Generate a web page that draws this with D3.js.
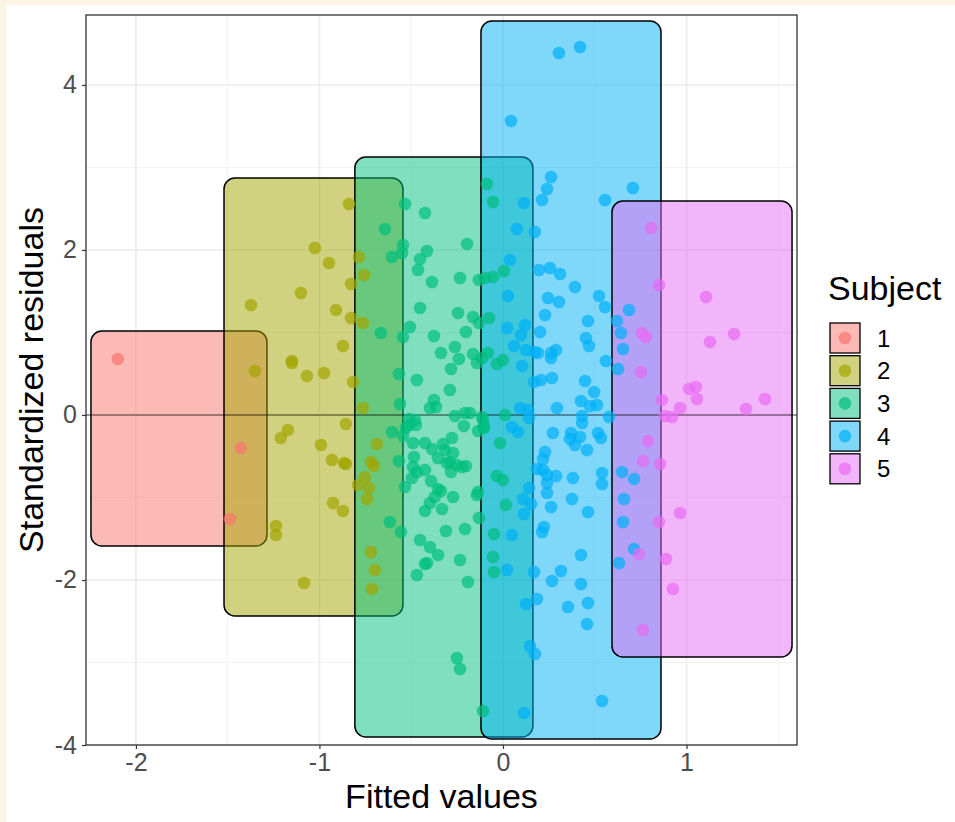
<!DOCTYPE html>
<html>
<head>
<meta charset="utf-8">
<script src="https://cdn.jsdelivr.net/npm/d3@7"></script>
<style>
  html,body{margin:0;padding:0;background:#fdf5e4;}
  svg{display:block;font-family:"Liberation Sans",Arial,sans-serif;}
</style>
</head>
<body>
<svg id="chart" width="955" height="822"></svg>
<script>
// residuals vs fitted, one rounded box per subject
const subjects = ['1','2','3','4','5']
const colors = ['#F8766D','#A3A500','#00BF7D','#00B0F6','#E76BF3']

const fitted1 = [-2.098,-1.428,-1.488]
const resid1  = [0.679,-0.400,-1.261]

const fitted2 = [-0.839,-1.025,-0.948,-0.785,-1.101,-1.373,-0.910,-0.828,-0.828,-0.757,-0.763,-0.872,-1.150,-1.150,-1.068,-0.975,-1.351,-0.817,-0.763,-0.856,-1.172,-1.210,-0.992,-0.932,-0.866,-0.856,-0.790,-0.926,-0.872,-1.237,-1.237,-1.084,-0.687,-0.719,-0.703,-0.752,-0.730,-0.741,-0.719,-0.698,-0.714]
const resid2  = [2.558,2.024,1.842,1.915,1.479,1.333,1.273,1.588,1.176,1.697,1.115,0.836,0.655,0.630,0.473,0.509,0.533,0.400,0.085,-0.109,-0.182,-0.279,-0.364,-0.545,-0.582,-0.594,-0.848,-1.067,-1.164,-1.345,-1.455,-2.036,-0.352,-0.570,-0.618,-0.752,-0.885,-1.018,-1.661,-1.879,-2.109]

const fitted3 = [-0.534,-0.425,-0.643,-0.545,-0.550,-0.605,-0.414,-0.452,-0.463,-0.196,-0.087,-0.054,-0.387,-0.234,-0.131,-0.098,-0.054,0.005,-0.452,-0.245,-0.163,-0.131,-0.076,-0.507,-0.545,-0.665,-0.376,-0.202,-0.262,-0.338,-0.240,-0.163,-0.114,-0.082,-0.142,0.000,-0.033,-0.283,-0.567,-0.469,-0.289,-0.376,-0.398,-0.365,-0.561,-0.262,-0.207,-0.180,-0.114,0.011,-0.512,-0.480,-0.605,-0.545,-0.512,-0.474,-0.529,-0.213,-0.136,-0.104,-0.490,-0.425,-0.278,-0.327,-0.387,-0.316,-0.272,-0.485,-0.567,-0.354,-0.289,-0.490,-0.425,-0.305,-0.251,-0.223,-0.202,-0.469,-0.283,-0.496,-0.392,-0.534,-0.354,-0.338,-0.371,-0.272,-0.136,-0.142,-0.398,-0.425,-0.332,-0.131,-0.616,-0.556,-0.311,-0.207,-0.452,-0.398,-0.354,-0.234,-0.414,-0.425,-0.469,-0.191,-0.251,-0.234,-0.109,-0.016,-0.033,0.000,0.016,-0.049,-0.054,-0.049,-0.109,-0.104]
const resid3  = [2.558,2.448,2.255,2.061,1.964,1.915,1.988,1.891,1.758,2.073,2.800,2.582,1.612,1.661,1.636,1.661,1.673,1.745,1.297,1.236,1.188,1.115,1.176,1.067,0.945,0.994,0.958,1.006,0.824,0.752,0.679,0.739,0.691,0.752,0.630,0.667,0.618,0.558,0.497,0.424,0.303,0.182,0.085,0.097,0.133,-0.012,0.024,0.024,-0.024,0.000,-0.048,-0.061,-0.206,-0.255,-0.121,-0.121,-0.158,-0.133,-0.194,-0.145,-0.339,-0.339,-0.279,-0.352,-0.412,-0.424,-0.461,-0.509,-0.558,-0.521,-0.570,-0.630,-0.667,-0.582,-0.606,-0.630,-0.618,-0.691,-0.691,-0.764,-0.800,-0.873,-0.897,-0.921,-0.994,-0.994,-0.933,-0.970,-1.067,-1.164,-1.139,-1.248,-1.297,-1.418,-1.406,-1.382,-1.515,-1.600,-1.697,-1.758,-1.794,-1.806,-1.939,-2.024,-2.945,-3.079,-3.588,-0.339,-0.739,-0.788,-1.091,-1.442,-1.721,-1.903,-0.061,-0.158]

const fitted4 = [0.305,0.420,0.044,0.262,0.240,0.213,0.114,0.556,0.708,0.076,0.174,0.038,0.196,0.256,0.311,0.392,0.027,0.245,0.305,0.523,0.556,0.229,0.463,0.621,0.687,0.022,0.120,0.098,0.202,0.452,0.469,0.643,0.060,0.125,0.174,0.191,0.262,0.289,0.262,0.654,0.561,0.627,0.104,0.169,0.207,0.267,0.447,0.496,0.425,0.474,0.512,0.294,0.093,0.136,0.142,0.431,0.578,0.049,0.082,0.272,0.431,0.371,0.365,0.420,0.392,0.458,0.518,0.534,0.229,0.218,0.185,0.218,0.240,0.289,0.240,0.240,0.142,0.109,0.153,0.114,0.262,0.381,0.376,0.463,0.540,0.540,0.649,0.714,0.659,0.654,0.714,0.632,0.223,0.213,0.049,0.425,0.022,0.169,0.316,0.267,0.425,0.185,0.125,0.354,0.463,0.458,0.147,0.174,0.540,0.114]
const resid4  = [4.388,4.461,3.564,2.885,2.739,2.606,2.570,2.606,2.752,2.255,2.218,1.879,1.758,1.782,1.709,1.552,1.442,1.418,1.370,1.442,1.309,1.212,1.139,1.139,1.273,1.055,1.091,0.970,1.006,0.933,0.836,0.994,0.836,0.788,0.764,0.752,0.752,0.788,0.691,0.800,0.655,0.558,0.594,0.400,0.424,0.448,0.412,0.279,0.170,0.109,0.121,0.085,0.085,0.061,-0.036,-0.012,-0.024,-0.145,-0.206,-0.218,-0.097,-0.218,-0.291,-0.267,-0.364,-0.424,-0.218,-0.279,-0.448,-0.533,-0.655,-0.667,-0.727,-0.739,-0.824,-0.945,-0.885,-1.018,-1.079,-1.200,-1.115,-0.764,-1.018,-1.176,-0.703,-0.836,-0.691,-0.776,-1.018,-1.297,-1.624,-1.794,-1.358,-1.418,-1.455,-1.697,-1.879,-1.903,-1.891,-2.012,-2.048,-2.230,-2.291,-2.327,-2.279,-2.533,-2.800,-2.897,-3.467,-3.612]

const fitted5 = [0.807,0.850,1.106,1.259,1.128,0.757,0.779,0.752,0.866,0.965,1.014,1.052,1.057,0.883,0.921,1.324,1.428,0.790,0.763,0.856,0.850,0.741,0.888,0.926,0.763,0.965]
const resid5  = [2.267,1.576,1.430,0.982,0.885,0.994,0.945,0.521,0.182,0.085,0.315,0.339,0.194,-0.012,-0.024,0.073,0.194,-0.315,-0.558,-0.594,-1.297,-1.685,-1.745,-2.109,-2.606,-1.188]

// box limits per subject
const boxXmin = [-2.245,-1.520,-0.807,-0.120,0.594]
const boxXmax = [-1.286,-0.545,0.163,0.861,1.575]
const boxYmin = [-1.588,-2.436,-3.903,-3.927,-2.933]
const boxYmax = [1.018,2.873,3.127,4.776,2.594]

const xTicks = [-2,-1,0,1]
const yTicks = [-4,-2,0,2,4]
const xMinor = [-1.5,-0.5,0.5,1.5]
const yMinor = [-3,-1,1,3]

const fittedAll = [fitted1,fitted2,fitted3,fitted4,fitted5]
const residAll = [resid1,resid2,resid3,resid4,resid5]

const svg = d3.select('#chart')
svg.append('rect').attr('x',6).attr('y',5).attr('width',949).attr('height',817).attr('fill','#fff')

const L=86, R=797, T=15, B=745
const x = d3.scaleLinear().domain([-2.272,1.602]).range([L,R])
const y = d3.scaleLinear().domain([-4,4.848]).range([B,T])

const g = svg.append('g')
g.append('rect').attr('x',L).attr('y',T).attr('width',R-L).attr('height',B-T).attr('fill','#fff')

// grid
g.selectAll('.xminor').data(xMinor).enter().append('line')
  .attr('x1',d=>x(d)).attr('x2',d=>x(d)).attr('y1',T).attr('y2',B)
  .attr('stroke','#f3f3f3').attr('stroke-width',1)
g.selectAll('.yminor').data(yMinor).enter().append('line')
  .attr('y1',d=>y(d)).attr('y2',d=>y(d)).attr('x1',L).attr('x2',R)
  .attr('stroke','#f3f3f3').attr('stroke-width',1)
g.selectAll('.xmajor').data(xTicks).enter().append('line')
  .attr('x1',d=>x(d)).attr('x2',d=>x(d)).attr('y1',T).attr('y2',B)
  .attr('stroke','#ebebeb').attr('stroke-width',1.6)
g.selectAll('.ymajor').data(yTicks).enter().append('line')
  .attr('y1',d=>y(d)).attr('y2',d=>y(d)).attr('x1',L).attr('x2',R)
  .attr('stroke','#ebebeb').attr('stroke-width',1.6)

// boxes
subjects.forEach((s,i)=>{
  g.append('rect')
    .attr('x',x(boxXmin[i])).attr('y',y(boxYmax[i]))
    .attr('width',x(boxXmax[i])-x(boxXmin[i])).attr('height',y(boxYmin[i])-y(boxYmax[i]))
    .attr('rx',11).attr('ry',11)
    .attr('fill',colors[i]).attr('fill-opacity',0.5)
    .attr('stroke','#000').attr('stroke-width',1.5)
})

// zero line
g.append('line').attr('x1',L).attr('x2',R).attr('y1',y(0)).attr('y2',y(0))
  .attr('stroke','#000').attr('stroke-opacity',0.7).attr('stroke-width',1.2)

// points
subjects.forEach((s,i)=>{
  const pts = fittedAll[i].map((f,j)=>({f, r: residAll[i][j]}))
  g.selectAll('.p'+s).data(pts).enter().append('circle')
    .attr('cx',d=>x(d.f)).attr('cy',d=>y(d.r)).attr('r',6.3)
    .attr('fill',colors[i]).attr('fill-opacity',0.7)
})

// border
g.append('rect').attr('x',L).attr('y',T).attr('width',R-L).attr('height',B-T)
  .attr('fill','none').attr('stroke','#333').attr('stroke-width',1.3)

// axes (plain hyphen minus, like the original)
const fmt = d=>String(d)
const xAxis = svg.append('g').attr('transform',`translate(0,${B})`)
  .call(d3.axisBottom(x).tickValues(xTicks).tickSize(4).tickPadding(4).tickFormat(fmt))
const yAxis = svg.append('g').attr('transform',`translate(${L},0)`)
  .call(d3.axisLeft(y).tickValues(yTicks).tickSize(4).tickPadding(5).tickFormat(fmt))
;[xAxis,yAxis].forEach(a=>{
  a.select('.domain').remove()
  a.selectAll('line').attr('stroke','#333').attr('stroke-width',1.2)
  a.selectAll('text').attr('fill','#4d4d4d').style('font-size','25px')
    .style('font-family','"Liberation Sans",Arial,sans-serif')
})

svg.append('text').attr('x',(L+R)/2).attr('y',808).attr('text-anchor','middle')
  .style('font-size','34px').attr('fill','#000').text('Fitted values')
svg.append('text').attr('transform',`translate(43,${(T+B)/2}) rotate(-90)`).attr('text-anchor','middle')
  .style('font-size','34px').attr('fill','#000').text('Standardized residuals')

// legend
const lg = svg.append('g')
lg.append('text').attr('x',828).attr('y',300).style('font-size','34px').text('Subject')
subjects.forEach((s,i)=>{
  const ky = 323 + i*32.7
  lg.append('rect').attr('x',830).attr('y',ky).attr('width',30).attr('height',30)
    .attr('fill',colors[i]).attr('fill-opacity',0.5).attr('stroke','#000').attr('stroke-width',1.3)
  lg.append('circle').attr('cx',845).attr('cy',ky+15).attr('r',6.3)
    .attr('fill',colors[i]).attr('fill-opacity',0.7)
  lg.append('text').attr('x',877).attr('y',ky+23.5).style('font-size','24px').attr('fill','#000').text(s)
})
</script>
</body>
</html>
